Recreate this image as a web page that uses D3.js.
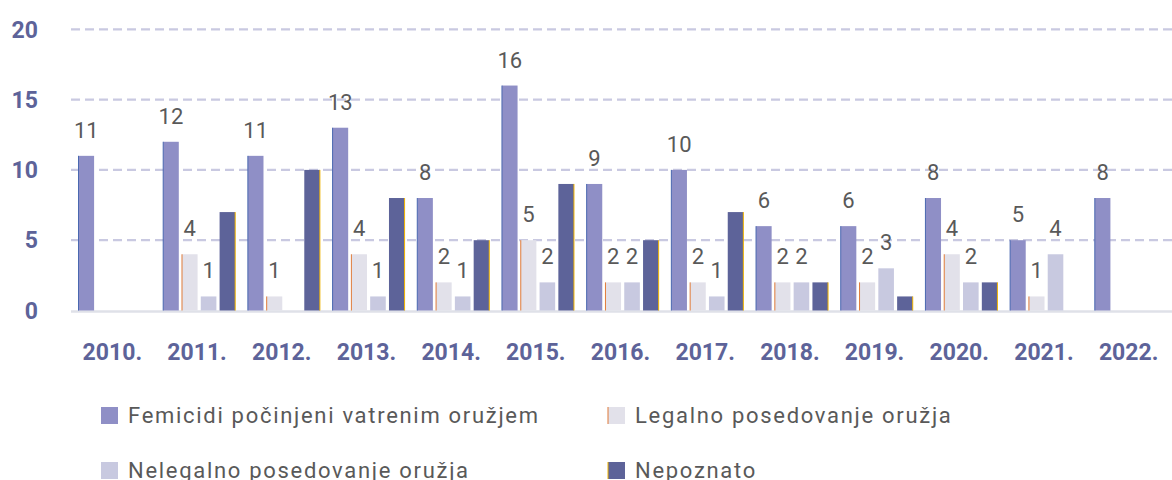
<!DOCTYPE html>
<html lang="sr">
<head>
<meta charset="UTF-8">
<script src="https://d3js.org/d3.v7.min.js"></script>
<style>
  body { margin: 0; background: #fff; }
  svg { font-family: Roboto, "Noto Sans", sans-serif; }
</style>
</head>
<body>
<script>
// data
var years = ["2010.", "2011.", "2012.", "2013.", "2014.", "2015.", "2016.", "2017.", "2018.", "2019.", "2020.", "2021.", "2022."];
var seriesNames = ["Femicidi počinjeni vatrenim oružjem", "Legalno posedovanje oružja", "Nelegalno posedovanje oružja", "Nepoznato"];
var femicidi  = [11, 12, 11, 13, 8, 16, 9, 10, 6, 6, 8, 5, 8];
var legalno   = [0, 4, 1, 4, 2, 5, 2, 2, 2, 2, 4, 1, 0];
var nelegalno = [0, 1, 0, 1, 1, 2, 2, 1, 2, 3, 2, 4, 0];
var nepoznato = [0, 7, 10, 8, 5, 9, 5, 7, 2, 1, 2, 0, 0];
var yTicks = [0, 5, 10, 15, 20];

var colors = ["#8f8fc6", "#e2e1ea", "#c8c9e0", "#5d6399"];
var edgeColors = ["#4a68b0", "#e07b39", null, "#f0b400"];
var showLabel = [true, true, true, false];

var W = 1172, H = 480;
var svg = d3.select("body").append("svg").attr("width", W).attr("height", H);

var x0 = d3.scaleBand().domain(years).range([70, 1171]).padding(0);
var x1 = d3.scaleBand().domain(d3.range(4)).range([8.5, 80.5]).paddingInner(0.17).paddingOuter(0);
var y = d3.scaleLinear().domain([0, 20]).range([310.5, 29.3]);

// grid
svg.selectAll("line.grid").data(yTicks.filter(function(d){ return d > 0; })).enter().append("line")
  .attr("class", "grid")
  .attr("x1", 71).attr("x2", W)
  .attr("y1", function(d){ return y(d); }).attr("y2", function(d){ return y(d); })
  .attr("stroke", "#c9c9e1").attr("stroke-width", 2.2).attr("stroke-dasharray", "9,5");

svg.append("line").attr("x1", 71).attr("x2", W).attr("y1", y(0) + 1).attr("y2", y(0) + 1)
  .attr("stroke", "#dfe1e8").attr("stroke-width", 2.5);

// y labels
svg.selectAll("text.ytick").data(yTicks).enter().append("text")
  .attr("class", "ytick")
  .attr("x", 38).attr("y", function(d){ return y(d); })
  .attr("dy", "0.36em").attr("text-anchor", "end")
  .attr("font-size", 23).attr("font-weight", "bold").attr("fill", "#5d6399")
  .text(function(d){ return d; });

// x labels
svg.selectAll("text.xtick").data(years).enter().append("text")
  .attr("class", "xtick")
  .attr("x", function(d){ return x0(d) + x0.bandwidth() / 2; }).attr("y", 360)
  .attr("text-anchor", "middle")
  .attr("font-size", 23).attr("font-weight", "bold").attr("fill", "#5d6399")
  .text(function(d){ return d; });

var table = years.map(function(yr, i){
  return { year: yr, values: [femicidi[i], legalno[i], nelegalno[i], nepoznato[i]] };
});

var groups = svg.selectAll("g.year").data(table).enter().append("g")
  .attr("class", "year")
  .attr("transform", function(d){ return "translate(" + x0(d.year) + ",0)"; });

var cells = groups.selectAll("g.bar").data(function(d){
  return d.values.map(function(v, s){ return { s: s, v: v }; }).filter(function(c){ return c.v > 0; });
}).enter().append("g").attr("class", "bar");

cells.append("rect")
  .attr("x", function(d){ return x1(d.s); })
  .attr("width", x1.bandwidth())
  .attr("y", function(d){ return y(d.v); })
  .attr("height", function(d){ return y(0) - y(d.v); })
  .attr("fill", function(d){ return colors[d.s]; });

cells.filter(function(d){ return edgeColors[d.s]; }).append("rect")
  .attr("x", function(d){ return d.s === 3 ? x1(d.s) + x1.bandwidth() - 0.5 : x1(d.s) - 0.5; })
  .attr("width", 1)
  .attr("y", function(d){ return y(d.v); })
  .attr("height", function(d){ return y(0) - y(d.v); })
  .attr("fill", function(d){ return edgeColors[d.s]; });

cells.filter(function(d){ return showLabel[d.s]; }).append("text")
  .attr("x", function(d){ return x1(d.s) + x1.bandwidth() / 2; })
  .attr("y", function(d){ return y(d.v) - 18; })
  .attr("text-anchor", "middle")
  .attr("font-size", 22).attr("fill", "#595959")
  .text(function(d){ return d.v; });

// legend
var legendPos = [[101, 407], [608, 407], [101, 462], [608, 462]];
var legend = svg.selectAll("g.legend").data(seriesNames).enter().append("g")
  .attr("class", "legend")
  .attr("transform", function(d, i){ return "translate(" + legendPos[i][0] + "," + legendPos[i][1] + ")"; });

legend.append("rect").attr("width", 17).attr("height", 17)
  .attr("fill", function(d, i){ return colors[i]; });
legend.filter(function(d, i){ return edgeColors[i] && i !== 0; }).append("rect")
  .attr("x", -0.5).attr("width", 1).attr("height", 17)
  .attr("fill", function(d){ return edgeColors[seriesNames.indexOf(d)]; });
legend.append("text")
  .attr("x", 27).attr("y", 16)
  .attr("font-size", 22).attr("letter-spacing", 1.7).attr("fill", "#595959")
  .text(function(d){ return d; });
</script>
</body>
</html>
